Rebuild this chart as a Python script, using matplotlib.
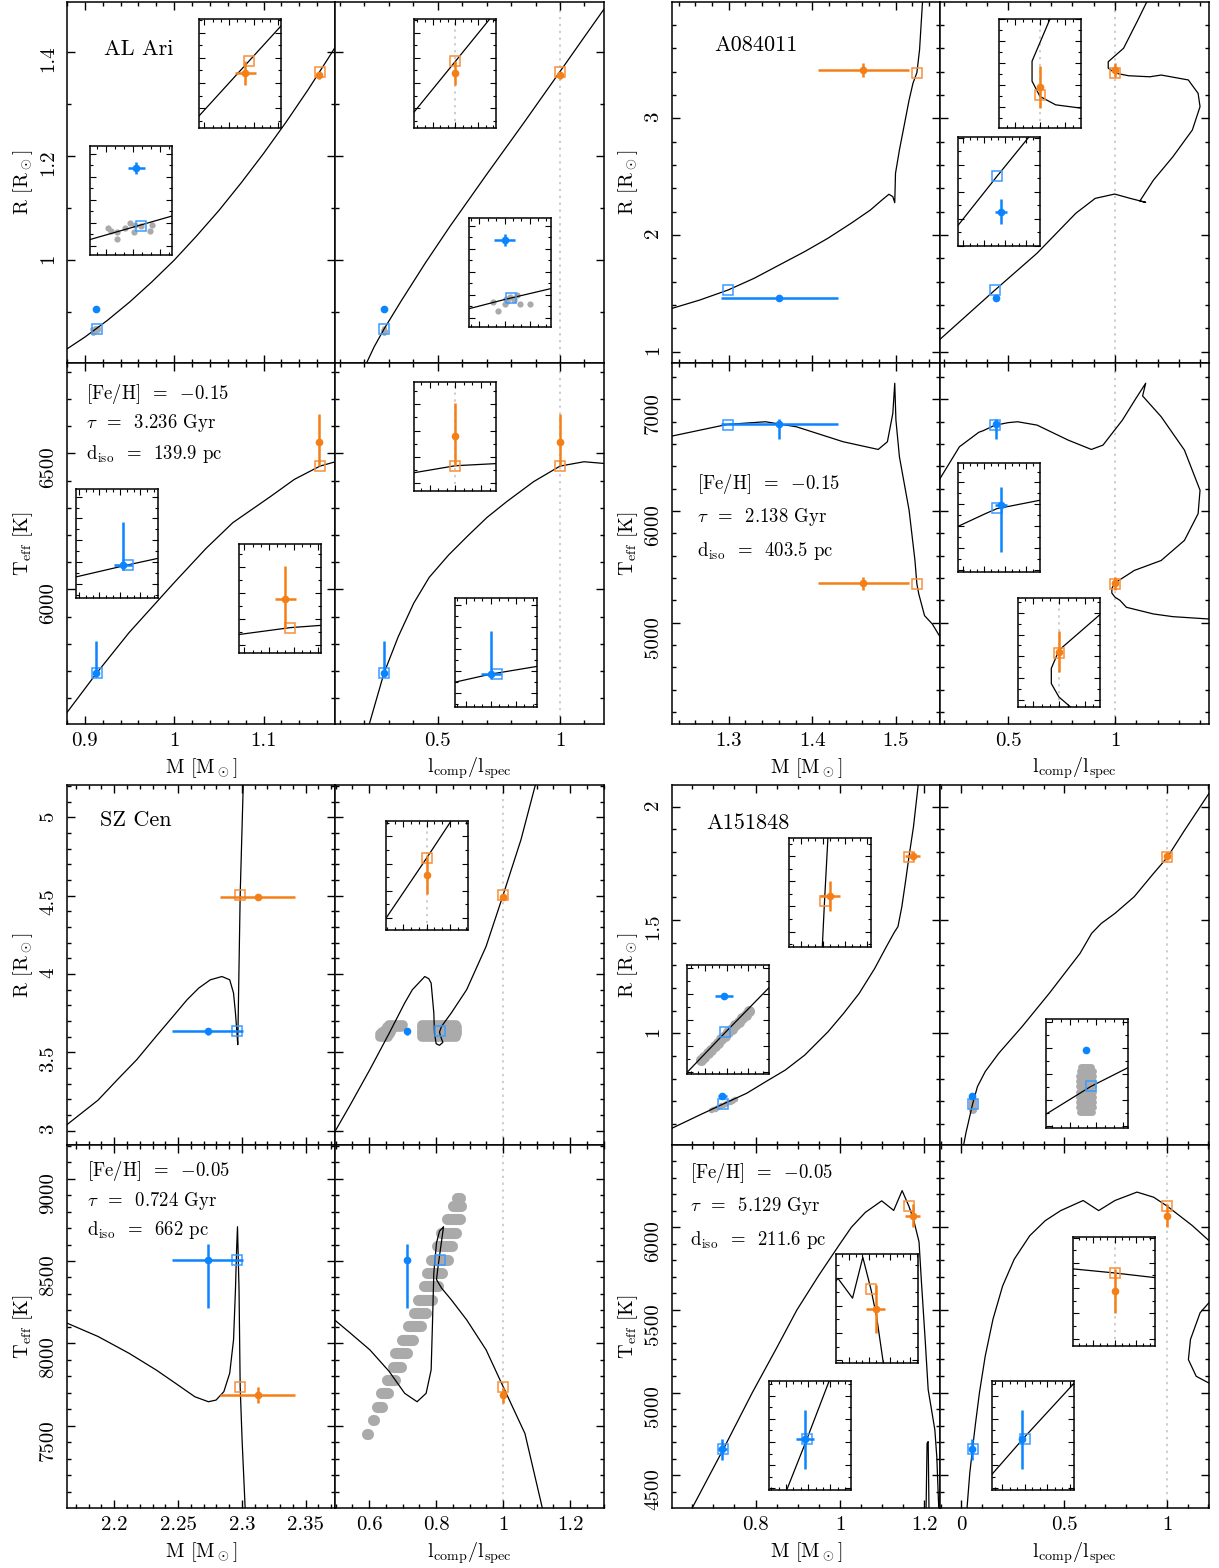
import matplotlib
matplotlib.use('Agg')
import matplotlib.pyplot as plt
from matplotlib.ticker import MultipleLocator, MaxNLocator, AutoMinorLocator, FuncFormatter

plt.rcParams['font.family'] = 'cmr10'
plt.rcParams['mathtext.fontset'] = 'cm'
plt.rcParams['axes.formatter.use_mathtext'] = True

# ---------------- AL Ari ----------------
alari_obs_m = [0.9125, 1.162]
alari_obs_m_err = [0.0013, 0.0026]
alari_obs_r = [0.906, 1.356]
alari_obs_r_err = [0.004, 0.007]
alari_obs_t = [5691, 6543]
alari_obs_t_lo = [14, 90]
alari_obs_t_hi = [119, 102]
alari_obs_l = [0.28, 1.0]
alari_obs_l_err = [0.002, 0.0]
alari_mod_m = [0.9132, 1.163]
alari_mod_r = [0.868, 1.363]
alari_mod_t = [5691, 6453]
alari_mod_l = [0.2812, 1.0]

alari_rm_m = [0.875, 0.9, 0.925, 0.95, 0.975, 1.0, 1.025, 1.05, 1.075, 1.1, 1.125, 1.15, 1.175, 1.19]
alari_rm_r = [0.8234, 0.8519, 0.8838, 0.9192, 0.9582, 1.0, 1.0465, 1.0955, 1.1489, 1.2053,
              1.2652, 1.3285, 1.3956, 1.4374]
alari_rl_l = [0.195, 0.207, 0.24, 0.28, 0.35, 0.45, 0.55, 0.7, 0.85, 1.0, 1.1, 1.19]
alari_rl_r = [0.787, 0.80, 0.833, 0.867, 0.921, 0.995, 1.065, 1.165, 1.263, 1.363, 1.43, 1.49]
alari_tm_m = [0.875, 0.8806, 0.9129, 0.9495, 0.9998, 1.0355, 1.0656, 1.0871, 1.1086, 1.1344,
              1.1632, 1.1783, 1.19]
alari_tm_t = [5524, 5550, 5691, 5841, 6024, 6150, 6245, 6294, 6343, 6404, 6453, 6467, 6474]
alari_tl_l = [0.21, 0.22, 0.28, 0.3386, 0.4019, 0.4652, 0.5443, 0.6234, 0.7025, 0.7816,
              0.8924, 1.0, 1.0981, 1.19]
alari_tl_t = [5460, 5504, 5691, 5826, 5949, 6044, 6126, 6197, 6265, 6322, 6396, 6453, 6469, 6462]

alari_cloud_rm_m = [0.9083, 0.9088, 0.9096, 0.9096, 0.9108, 0.9115, 0.9122, 0.9123, 0.9132, 0.9145, 0.9148]
alari_cloud_rm_r = [0.8669, 0.8649, 0.8643, 0.8595, 0.8665, 0.8698, 0.8643, 0.8686, 0.8680, 0.8647, 0.8686]
alari_cloud_rl_l = [0.2777, 0.2788, 0.2800, 0.2804, 0.2810, 0.2824, 0.2830, 0.2851, 0.2802, 0.2818]
alari_cloud_rl_r = [0.8651, 0.8593, 0.8643, 0.8658, 0.8684, 0.8698, 0.8643, 0.8643, 0.8673, 0.8669]

# ---------------- A084011 ----------------
a084_obs_m = [1.3605, 1.4612]
a084_obs_m_err = [0.07, 0.0545]
a084_obs_r = [1.463, 3.414]
a084_obs_r_err = [0.023, 0.057]
a084_obs_t = [6778, 5353]
a084_obs_t_lo = [130, 57]
a084_obs_t_hi = [50, 57]
a084_obs_l = [0.4436, 1.0]
a084_obs_l_err = [0.0092, 0.0]
a084_mod_m = [1.2993, 1.5253]
a084_mod_r = [1.529, 3.391]
a084_mod_t = [6770, 5350]
a084_mod_l = [0.438, 1.0]

a084_rm_m = [1.225, 1.232, 1.2654, 1.2993, 1.3304, 1.3605, 1.3907, 1.4185, 1.4464, 1.4696,
             1.4835, 1.4918, 1.4965, 1.4988, 1.4997, 1.5044, 1.516, 1.5206, 1.5253, 1.5285,
             1.5322]
a084_rm_r = [1.355, 1.371, 1.443, 1.529, 1.629, 1.743, 1.857, 1.971, 2.10, 2.214,
             2.30, 2.349, 2.329, 2.277, 2.529, 2.729, 3.157, 3.30, 3.391, 3.586,
             4.014]
a084_tm_m = [1.225, 1.232, 1.298, 1.344, 1.381, 1.437, 1.479, 1.490, 1.4965, 1.4988,
             1.5002, 1.5044, 1.516, 1.523, 1.5253, 1.5276, 1.5345, 1.5438, 1.553, 1.56]
a084_tm_t = [6650, 6671, 6775, 6799, 6754, 6620, 6551, 6620, 6874, 7144,
             6814, 6485, 6006, 5557, 5347, 5257, 5063, 4988, 4874, 4780]
a084_rl_l = [0.17, 0.18, 0.438, 0.634, 0.816, 0.907, 0.998, 1.071, 1.1435, 1.116, 1.18, 1.271,
             1.362, 1.398, 1.389, 1.343, 1.216, 1.163, 1.063, 1.0, 0.968, 0.968, 1.04, 1.107,
             1.153, 1.17]
a084_rl_r = [1.09, 1.106, 1.529, 1.843, 2.186, 2.314, 2.351, 2.314, 2.28, 2.291, 2.471, 2.671,
             2.90, 3.10, 3.214, 3.329, 3.371, 3.356, 3.365, 3.388, 3.43, 3.485, 3.601, 3.843,
             4.014, 4.06]
a084_tl_l = [0.17, 0.18, 0.271, 0.362, 0.3823, 0.4213, 0.438, 0.4491, 0.4993, 0.5436, 0.6345,
             0.78, 0.889, 0.9435, 1.0345, 1.098, 1.1435, 1.129, 1.216, 1.325, 1.398, 1.389,
             1.325, 1.216, 1.089, 1.08, 1.0, 0.985, 0.985, 1.0, 1.023, 1.053, 1.18, 1.271,
             1.44, 1.46]
a084_tl_t = [6250, 6290, 6575, 6705, 6719, 6754, 6768, 6772, 6791, 6799, 6769,
             6635, 6551, 6590, 6814, 7009, 7144, 7030, 6844, 6545, 6186, 5976,
             5737, 5557, 5467, 5455, 5357, 5307, 5265, 5228, 5200, 5138, 5078, 5054,
             5033, 5030]

# ---------------- SZ Cen ----------------
szc_obs_m = [2.2732, 2.3126]
szc_obs_m_err = [0.028, 0.0294]
szc_obs_r = [3.634, 4.49]
szc_obs_r_err = [0.02, 0.018]
szc_obs_t = [8509, 7687]
szc_obs_t_lo = [295, 48]
szc_obs_t_hi = [95, 48]
szc_obs_l = [0.714, 1.0]
szc_obs_l_err = [0.0, 0.0]
szc_mod_m = [2.2966, 2.2987]
szc_mod_r = [3.634, 4.505]
szc_mod_t = [8505, 7737]
szc_mod_l = [0.810, 1.0]

szc_rm_m = [2.155, 2.163, 2.1873, 2.2025, 2.2176, 2.2328, 2.2449, 2.2571, 2.2662, 2.2753,
            2.2844, 2.2905, 2.2935, 2.295, 2.2962, 2.2968, 2.2987, 2.3011, 2.302]
szc_rm_r = [2.95, 3.039, 3.195, 3.326, 3.453, 3.602, 3.718, 3.836, 3.910, 3.963,
            3.984, 3.963, 3.878, 3.751, 3.623, 3.549, 4.505, 5.206, 5.4]
szc_tm_m = [2.155, 2.163, 2.1873, 2.2116, 2.2328, 2.2480, 2.2632, 2.2738, 2.2798, 2.2859,
            2.2905, 2.2935, 2.295, 2.2959, 2.2966, 2.2978, 2.2987, 2.3002, 2.3026, 2.304]
szc_tm_t = [8150, 8123, 8042, 7940, 7839, 7758, 7676, 7646, 7656, 7707,
            7819, 8022, 8326, 8570, 8708, 8326, 7737, 7413, 7000, 6800]
szc_rl_l = [0.492, 0.5, 0.544, 0.602, 0.66, 0.706, 0.729, 0.766, 0.778, 0.785, 0.793, 0.795,
            0.800, 0.810, 0.820, 0.8126, 0.810, 0.816, 0.845, 0.891, 0.949, 1.0, 1.053, 1.1]
szc_rl_r = [2.965, 3.003, 3.167, 3.39, 3.623, 3.815, 3.90, 3.984, 3.97, 3.942, 3.751, 3.623,
            3.555, 3.545, 3.564, 3.606, 3.630, 3.666, 3.751, 3.90, 4.176, 4.505, 4.856, 5.238]
szc_tl_l = [0.49, 0.5, 0.544, 0.602, 0.66, 0.706, 0.743, 0.77, 0.785, 0.789, 0.793, 0.801,
            0.810, 0.822, 0.8126, 0.8045, 0.801, 0.816, 0.845, 0.891, 0.949, 1.0, 1.065,
            1.117, 1.129]
szc_tl_t = [8155, 8137, 8062, 7961, 7829, 7697, 7646, 7697, 7839, 8123, 8428, 8610,
            8681, 8708, 8570, 8448, 8387, 8336, 8265, 8143, 7961, 7737, 7453,
            7000, 6905]

szc_cloud_rl_r = [3.675, 3.66, 3.645, 3.63, 3.615, 3.60]
szc_cloud_rl_lo1 = [0.658, 0.653, 0.647, 0.639, 0.632, 0.632]
szc_cloud_rl_hi1 = [0.702, 0.696, 0.667, 0.665, 0.661, 0.655]
szc_cloud_rl_lo2 = [0.759, 0.757, 0.757, 0.757, 0.757, 0.759]
szc_cloud_rl_hi2 = [0.858, 0.861, 0.861, 0.861, 0.861, 0.858]
szc_cloud_tl_t = [7352, 7453, 7534, 7616, 7697, 7778, 7859, 7940, 8022, 8103,
                  8184, 8265, 8346, 8428, 8509, 8590, 8671, 8752, 8834, 8884]
szc_cloud_tl_lo = [0.590, 0.595, 0.612, 0.624, 0.635, 0.653, 0.670, 0.676, 0.699, 0.716,
                   0.734, 0.745, 0.763, 0.774, 0.786, 0.803, 0.815, 0.832, 0.849, 0.862]
szc_cloud_tl_hi = [0.590, 0.597, 0.615, 0.638, 0.655, 0.678, 0.696, 0.713, 0.731, 0.754,
                   0.771, 0.788, 0.806, 0.817, 0.835, 0.846, 0.858, 0.870, 0.875, 0.870]

# ---------------- A151848 ----------------
a151_obs_m = [0.7216, 1.1724]
a151_obs_m_err = [0.0104, 0.018]
a151_obs_r = [0.7235, 1.782]
a151_obs_r_err = [0.003, 0.018]
a151_obs_t = [4656, 6071]
a151_obs_t_lo = [63, 71]
a151_obs_t_hi = [63, 71]
a151_obs_l = [0.0545, 1.0]
a151_obs_l_err = [0.0004, 0.0]
a151_mod_m = [0.7234, 1.1632]
a151_mod_r = [0.688, 1.776]
a151_mod_t = [4656, 6128]
a151_mod_l = [0.0552, 1.0]

a151_rm_m = [0.595, 0.602, 0.6682, 0.7234, 0.7786, 0.8246, 0.8706, 0.9166, 0.9718, 1.0086,
             1.0454, 1.0822, 1.1098, 1.1282, 1.1374, 1.1466, 1.1558, 1.1632, 1.1742, 1.1853,
             1.19]
a151_rm_r = [0.575, 0.581, 0.640, 0.688, 0.735, 0.787, 0.838, 0.904, 1.007, 1.088,
             1.176, 1.286, 1.382, 1.444, 1.471, 1.559, 1.676, 1.776, 1.912, 2.096,
             2.16]
a151_tm_m = [0.64, 0.6498, 0.691, 0.7234, 0.7924, 0.85, 0.898, 0.95, 1.0, 1.027, 1.06, 1.0988,
             1.1273, 1.1473, 1.1632, 1.1742, 1.1873, 1.1926, 1.2018, 1.209, 1.2156, 1.2248,
             1.2294, 1.234, 1.236]
a151_tm_t = [4250, 4301, 4500, 4656, 5000, 5270, 5500, 5710, 5900, 6000, 6090, 6160,
             6102, 6222, 6128, 6048, 5912, 5686, 5321, 5017, 4916, 4774,
             4611, 4301, 4200]
a151_tm2_m = [1.2037, 1.2064, 1.209, 1.2111]
a151_tm2_t = [4250, 4693, 4703, 4250]
a151_rl_l = [0.0094, 0.0226, 0.0552, 0.079, 0.1165, 0.1823, 0.295, 0.427, 0.577, 0.633, 0.68,
             0.746, 0.84, 0.934, 1.0, 1.085, 1.203, 1.22]
a151_rl_r = [0.496, 0.559, 0.688, 0.765, 0.831, 0.912, 1.029, 1.176, 1.353, 1.441, 1.485,
             1.529, 1.603, 1.706, 1.776, 1.897, 2.059, 2.08]
a151_tl_l = [0.0255, 0.0282, 0.0414, 0.0552, 0.0695, 0.0883, 0.1165, 0.1541, 0.2011, 0.2575,
             0.3327, 0.4079, 0.4831, 0.592, 0.6673, 0.7462, 0.8534, 0.9342, 1.0, 1.1222,
             1.203, 1.22]
a151_tl_t = [4250, 4301, 4510, 4663, 4814, 4997, 5220, 5443, 5645, 5807,
             5949, 6040, 6101, 6162, 6101, 6162, 6213, 6182, 6128, 6010,
             5919, 5900]
a151_tl2_l = [1.22, 1.203, 1.16, 1.113, 1.103, 1.141, 1.203, 1.22]
a151_tl2_t = [5580, 5544, 5483, 5321, 5199, 5098, 5057, 5050]

a151_cloud_rm_m = [0.695, 0.699, 0.703, 0.707, 0.711, 0.715, 0.719, 0.723, 0.727, 0.731,
                   0.735, 0.739, 0.743, 0.747, 0.751]
a151_cloud_rm_r = [0.6614, 0.6648, 0.6681, 0.6715, 0.6748, 0.6782, 0.6816, 0.6849, 0.6883, 0.6916,
                   0.6950, 0.6984, 0.7017, 0.7051, 0.7084]
a151_cloud_rl_r = [0.663, 0.668, 0.673, 0.678, 0.683, 0.688, 0.693, 0.698, 0.703, 0.707]
a151_cloud_rl_lo = [0.0536, 0.0534, 0.0534, 0.0534, 0.0534, 0.0534, 0.0534, 0.0534, 0.0535, 0.0537]
a151_cloud_rl_hi = [0.0554, 0.0556, 0.0556, 0.0556, 0.0556, 0.0556, 0.0556, 0.0556, 0.0555, 0.0553]

DOT_COLORS = ['#0a84ff', '#f57f17']
SQ_COLORS = ['#3d9bff', '#f7903a']
GRAY = '#aaaaaa'
KEYS = {'rm': ('m', 'r'), 'rl': ('l', 'r'), 'tm': ('m', 't'), 'tl': ('l', 't')}

W, H = 1219, 1568
fig = plt.figure(figsize=(W / 100, H / 100), dpi=100)


def px_axes(left, top, right, bottom):
    return fig.add_axes([left / W, 1 - bottom / H, (right - left) / W, (bottom - top) / H])


fmt = FuncFormatter(lambda v, p: '%g' % round(v, 6))


def obs(m, me, r, re, t, tlo, thi, l, le):
    return dict(m=m, m_err=me, r=r, r_err=re, t=t, t_lo=tlo, t_hi=thi, l=l, l_err=le)


blocks = [
    dict(name='AL Ari', name_xy=(0.138, 0.868),
         params=[r'[Fe/H]  =  $-$0.15', r'$\tau$  =  3.236 Gyr', r'd$_{\rm iso}$  =  139.9 pc'],
         params_xy=(0.07, [0.914, 0.834, 0.748]),
         box=(67, 335, 604, 2, 363, 724),
         lims={'m': (0.88, 1.18), 'l': (0.08, 1.18), 'r': (0.802, 1.497), 't': (5505, 6832)},
         ticks={'m': (0.1, 0.02), 'l': (0.5, 0.1), 'r': (0.2, 0.1), 't': (500, 100)},
         obs=obs(alari_obs_m, alari_obs_m_err, alari_obs_r, alari_obs_r_err, alari_obs_t,
                 alari_obs_t_lo, alari_obs_t_hi, alari_obs_l, alari_obs_l_err),
         mod=dict(m=alari_mod_m, r=alari_mod_r, t=alari_mod_t, l=alari_mod_l),
         curves={'rm': [(alari_rm_m, alari_rm_r)], 'rl': [(alari_rl_l, alari_rl_r)],
                 'tm': [(alari_tm_m, alari_tm_t)], 'tl': [(alari_tl_l, alari_tl_t)]},
         clouds={'rm': [('pts', alari_cloud_rm_m, alari_cloud_rm_r, 3.5, 4.5)],
                 'rl': [('pts', alari_cloud_rl_l, alari_cloud_rl_r, 3.5, 4.5)]},
         insets=[('rm', 199, 19, (1.1507, 1.1707), (1.3232, 1.3882)),
                 ('rm', 90, 146, (0.9057, 0.9177), (0.8491, 0.9201)),
                 ('rl', 414, 19, (0.9545, 1.0445), (1.3232, 1.3882)),
                 ('rl', 469, 218, (0.27294, 0.28924), (0.8491, 0.9201)),
                 ('tm', 76, 489, (0.90558, 0.91758), (5601, 5901)),
                 ('tm', 239, 544, (1.15066, 1.17066), (6374.5, 6711.5)),
                 ('tl', 414, 382, (0.9596, 1.0396), (6376, 6708)),
                 ('tl', 455, 598, (0.27287, 0.28917), (5600.4, 5900.4))]),
    dict(name='A084011', name_xy=(0.157, 0.88),
         params=[r'[Fe/H]  =  $-$0.15', r'$\tau$  =  2.138 Gyr', r'd$_{\rm iso}$  =  403.5 pc'],
         params_xy=(0.093, [0.665, 0.573, 0.479]),
         box=(672, 940, 1209, 2, 363, 724),
         lims={'m': (1.232, 1.553), 'l': (0.18, 1.44), 'r': (0.903, 3.997), 't': (4093, 7325)},
         ticks={'m': (0.1, 0.02), 'l': (0.5, 0.1), 'r': (1, 0.2), 't': (1000, 200)},
         obs=obs(a084_obs_m, a084_obs_m_err, a084_obs_r, a084_obs_r_err, a084_obs_t,
                 a084_obs_t_lo, a084_obs_t_hi, a084_obs_l, a084_obs_l_err),
         mod=dict(m=a084_mod_m, r=a084_mod_r, t=a084_mod_t, l=a084_mod_l),
         curves={'rm': [(a084_rm_m, a084_rm_r)], 'rl': [(a084_rl_l, a084_rl_r)],
                 'tm': [(a084_tm_m, a084_tm_t)], 'tl': [(a084_tl_l, a084_tl_t)]},
         clouds={},
         insets=[('rl', 999, 19, (0.835, 1.165), (3.3012, 3.6012)),
                 ('rl', 958, 137, (0.3823, 0.4993), (1.3994, 1.6019)),
                 ('tl', 958, 463, (0.3823, 0.4993), (6593.5, 6893.5)),
                 ('tl', 1018, 598, (0.92, 1.08), (5200.6, 5500.6))]),
    dict(name='SZ Cen', name_xy=(0.123, 0.903),
         params=[r'[Fe/H]  =  $-$0.05', r'$\tau$  =  0.724 Gyr', r'd$_{\rm iso}$  =  662 pc'],
         params_xy=(0.075, [0.928, 0.845, 0.765]),
         box=(67, 335, 604, 785, 1145, 1508),
         lims={'m': (2.163, 2.373), 'l': (0.498, 1.301), 'r': (2.909, 5.206), 't': (7001, 9204)},
         ticks={'m': (0.05, 0.01), 'l': (0.2, 0.05), 'r': (0.5, 0.1), 't': (500, 100)},
         obs=obs(szc_obs_m, szc_obs_m_err, szc_obs_r, szc_obs_r_err, szc_obs_t,
                 szc_obs_t_lo, szc_obs_t_hi, szc_obs_l, szc_obs_l_err),
         mod=dict(m=szc_mod_m, r=szc_mod_r, t=szc_mod_t, l=szc_mod_l),
         curves={'rm': [(szc_rm_m, szc_rm_r)], 'rl': [(szc_rl_l, szc_rl_r)],
                 'tm': [(szc_tm_m, szc_tm_t)], 'tl': [(szc_tl_l, szc_tl_t)]},
         clouds={'rl': [('rows', szc_cloud_rl_r, szc_cloud_rl_lo1, szc_cloud_rl_hi1, 7),
                        ('rows', szc_cloud_rl_r, szc_cloud_rl_lo2, szc_cloud_rl_hi2, 7)],
                 'tl': [('rows', szc_cloud_tl_t, szc_cloud_tl_lo, szc_cloud_tl_hi, 8)]},
         insets=[('rl', 386, 821, (0.99146, 1.00872), (4.4391, 4.5391))]),
    dict(name='A151848', name_xy=(0.127, 0.894),
         params=[r'[Fe/H]  =  $-$0.05', r'$\tau$  =  5.129 Gyr', r'd$_{\rm iso}$  =  211.6 pc'],
         params_xy=(0.067, [0.923, 0.831, 0.738]),
         box=(672, 940, 1209, 785, 1145, 1508),
         lims={'m': (0.602, 1.237), 'l': (-0.103, 1.203), 'r': (0.507, 2.096), 't': (4301, 6498)},
         ticks={'m': (0.2, 0.05), 'l': (0.5, 0.1), 'r': (0.5, 0.1), 't': (500, 100)},
         obs=obs(a151_obs_m, a151_obs_m_err, a151_obs_r, a151_obs_r_err, a151_obs_t,
                 a151_obs_t_lo, a151_obs_t_hi, a151_obs_l, a151_obs_l_err),
         mod=dict(m=a151_mod_m, r=a151_mod_r, t=a151_mod_t, l=a151_mod_l),
         curves={'rm': [(a151_rm_m, a151_rm_r)], 'rl': [(a151_rl_l, a151_rl_r)],
                 'tm': [(a151_tm_m, a151_tm_t), (a151_tm2_m, a151_tm2_t)],
                 'tl': [(a151_tl_l, a151_tl_t), (a151_tl2_l, a151_tl2_t)]},
         clouds={'rm': [('pts', a151_cloud_rm_m, a151_cloud_rm_r, 4, 8)],
                 'rl': [('rows', a151_cloud_rl_r, a151_cloud_rl_lo, a151_cloud_rl_hi, 5)]},
         insets=[('rm', 789, 838, (1.0991, 1.2471), (1.7216, 1.8516)),
                 ('rm', 687, 965, (0.6791, 0.7741), (0.648, 0.753)),
                 ('rl', 1046, 1019, (0.04845, 0.0608), (0.648, 0.753)),
                 ('tm', 836, 1254, (1.095, 1.255), (5911.6, 6231.6)),
                 ('tm', 769, 1381, (0.6807, 0.7733), (4546.7, 4781.7)),
                 ('tl', 1073, 1237, (0.9843, 1.0153), (5896.8, 6241.8)),
                 ('tl', 992, 1381, (0.04777, 0.06597), (4546.7, 4781.7))]),
]


def draw_panel(ax, b, key, inset=False):
    xk, yk = KEYS[key]
    for cx, cy in b['curves'][key]:
        ax.plot(cx, cy, color='black', lw=0.9, zorder=2)
    for cl in b['clouds'].get(key, []):
        if cl[0] == 'pts':
            ax.plot(cl[1], cl[2], 'o', color=GRAY, mec='none', ms=cl[4] if inset else cl[3], zorder=1)
        else:
            ax.hlines(cl[1], cl[2], cl[3], colors=GRAY, lw=cl[4], capstyle='round', zorder=1)
    if xk == 'l':
        ax.axvline(1.0, color='#c0c0c0', ls=(0, (1.5, 3)), lw=1.1, zorder=0)
    o = b['obs']
    if yk == 'r':
        lo = hi = o['r_err']
    else:
        lo, hi = o['t_lo'], o['t_hi']
    for i in range(2):
        ax.plot(b['mod'][xk][i], b['mod'][yk][i], 's', ms=6.5, mfc='none', mec=SQ_COLORS[i],
                mew=1.1, zorder=3)
        ax.errorbar(o[xk][i], o[yk][i], xerr=o[xk + '_err'][i], yerr=[[lo[i]], [hi[i]]],
                    fmt='o', ms=4.5, color=DOT_COLORS[i], elinewidth=1.8, capsize=0, zorder=4)


def style_main(ax, xt, yt, show_x, show_y):
    ax.xaxis.set_major_locator(MultipleLocator(xt[0]))
    ax.xaxis.set_minor_locator(MultipleLocator(xt[1]))
    ax.yaxis.set_major_locator(MultipleLocator(yt[0]))
    ax.yaxis.set_minor_locator(MultipleLocator(yt[1]))
    ax.xaxis.set_major_formatter(fmt)
    ax.yaxis.set_major_formatter(fmt)
    ax.tick_params(which='both', direction='in', top=True, right=True, width=1.0)
    ax.tick_params(which='major', length=6)
    ax.tick_params(which='minor', length=3.2)
    ax.tick_params(axis='x', labelsize=15, pad=5.5, labelbottom=show_x)
    ax.tick_params(axis='y', labelsize=15, pad=7, labelrotation=90, labelleft=show_y)
    for s in ax.spines.values():
        s.set_linewidth(1.1)


def style_inset(ax):
    ax.xaxis.set_major_locator(MaxNLocator(4))
    ax.xaxis.set_minor_locator(AutoMinorLocator(3))
    ax.yaxis.set_major_locator(MaxNLocator(5))
    ax.yaxis.set_minor_locator(AutoMinorLocator(2))
    ax.tick_params(which='both', direction='in', top=True, right=True,
                   labelbottom=False, labelleft=False, width=0.8)
    ax.tick_params(which='major', length=4)
    ax.tick_params(which='minor', length=2.2)
    for s in ax.spines.values():
        s.set_linewidth(1.1)


ylabels = {'r': r'R [R$_\odot$]', 't': r'T$_{\rm eff}$ [K]'}
xlabels = {'m': r'M [M$_\odot$]', 'l': r'l$_{\rm comp}$/l$_{\rm spec}$'}

for b in blocks:
    x0, xm, x1, y0, ym, y1 = b['box']
    boxes = {'rm': (x0, y0, xm, ym), 'rl': (xm, y0, x1, ym),
             'tm': (x0, ym, xm, y1), 'tl': (xm, ym, x1, y1)}
    axes = {}
    for key, bx in boxes.items():
        xk, yk = KEYS[key]
        ax = px_axes(*bx)
        draw_panel(ax, b, key)
        ax.set_xlim(*b['lims'][xk])
        ax.set_ylim(*b['lims'][yk])
        style_main(ax, b['ticks'][xk], b['ticks'][yk], key[0] == 't', xk == 'm')
        if xk == 'm':
            ax.set_ylabel(ylabels[yk], fontsize=14.5)
            ax.yaxis.set_label_coords(-0.12, 0.5)
        if key[0] == 't':
            ax.set_xlabel(xlabels[xk], fontsize=14.5)
            ax.xaxis.set_label_coords(0.5, -0.088)
        axes[key] = ax
    axes['rm'].text(b['name_xy'][0], b['name_xy'][1], b['name'], transform=axes['rm'].transAxes,
                    fontsize=16, ha='left', va='center')
    px_, pys = b['params_xy']
    for txt, py in zip(b['params'], pys):
        axes['tm'].text(px_, py, txt, transform=axes['tm'].transAxes, fontsize=13.5,
                        ha='left', va='center')
    for key, left, top, xl, yl in b['insets']:
        ia = px_axes(left, top, left + 82, top + 109)
        ia.set_facecolor('white')
        draw_panel(ia, b, key, inset=True)
        ia.set_xlim(*xl)
        ia.set_ylim(*yl)
        style_inset(ia)

fig.savefig('out.png', dpi=100)
